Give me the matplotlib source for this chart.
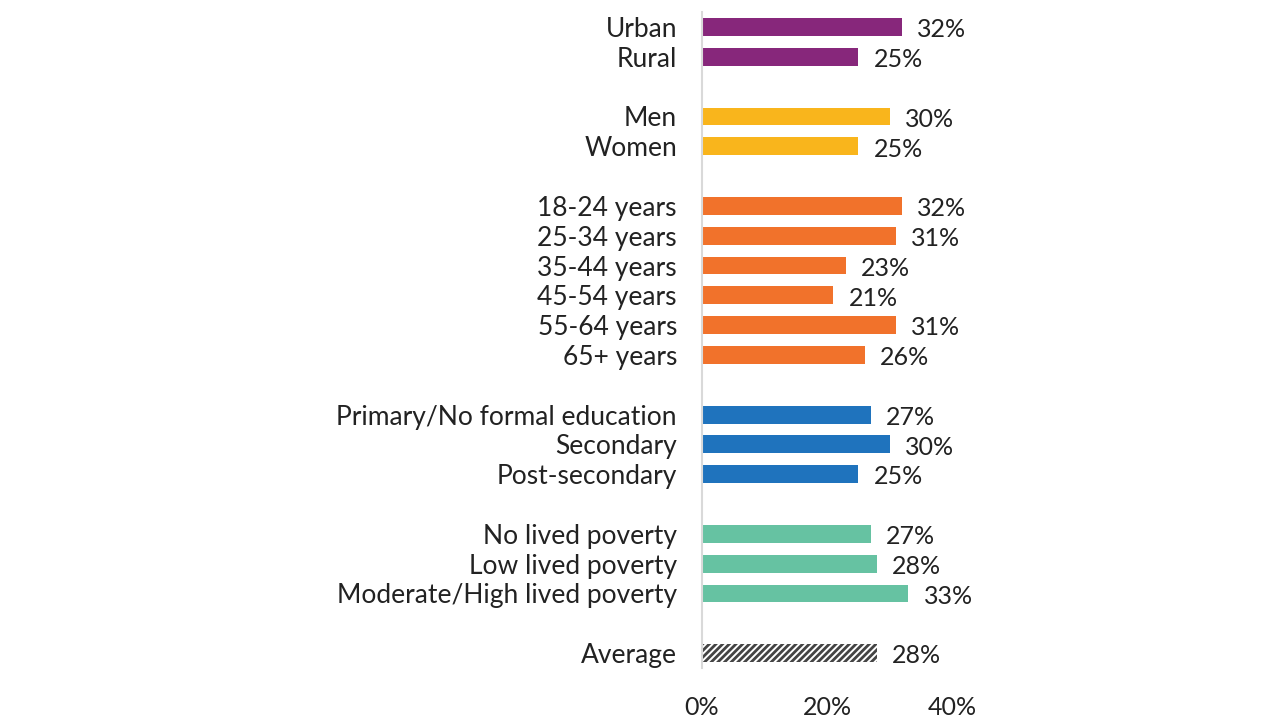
import matplotlib.pyplot as plt
import numpy as np

plt.rcParams['font.family'] = ['Lato', 'DejaVu Sans']

# groups of categories, one colour per group
groups = [
    ["Urban", "Rural"],
    ["Men", "Women"],
    ["18-24 years", "25-34 years", "35-44 years", "45-54 years", "55-64 years", "65+ years"],
    ["Primary/No formal education", "Secondary", "Post-secondary"],
    ["No lived poverty", "Low lived poverty", "Moderate/High lived poverty"],
    ["Average"],
]
values = [
    [32, 25],
    [30, 25],
    [32, 31, 23, 21, 31, 26],
    [27, 30, 25],
    [27, 28, 33],
    [28],
]
colors = ["#87277B", "#F9B51C", "#F1722B", "#1F73BD", "#66C2A2", "#FFFFFF"]

fig = plt.figure(figsize=(12.8, 7.2), dpi=100)
ax = fig.add_axes([0.5484, 0.0722, 0.1954, 0.911])
plt.rcParams['hatch.linewidth'] = 2.0

labels = []
pos = 0
for g, (cats, vals, col) in enumerate(zip(groups, values, colors)):
    for cat, v in zip(cats, vals):
        if cat == "Average":
            ax.barh(pos, v, height=0.6, color="white", edgecolor="#444444",
                    hatch="/////", linewidth=0)
        else:
            ax.barh(pos, v, height=0.6, color=col)
        ax.annotate(f"{v}%", (v, pos), xytext=(11, -2), textcoords="offset points",
                    va="center", ha="left", fontsize=18, color="#222222")
        labels.append((pos, cat))
        pos += 1
    pos += 1

ax.set_yticks([p for p, _ in labels])
ax.set_yticklabels([c for _, c in labels], fontsize=19, color="#222222")
ax.set_ylim(pos - 1.5, -0.5)
ax.set_xlim(0, 40)
ax.set_xticks([0, 20, 40])
ax.set_xticklabels(["0%", "20%", "40%"], fontsize=18, color="#222222")
ax.tick_params(axis="both", length=0)
ax.tick_params(axis="x", pad=20)
ax.tick_params(axis="y", pad=18)
for s in ["top", "right", "bottom"]:
    ax.spines[s].set_visible(False)
ax.spines["left"].set_color("#D9D9D9")
ax.spines["left"].set_linewidth(1.5)

fig.savefig("out.png", dpi=100)
